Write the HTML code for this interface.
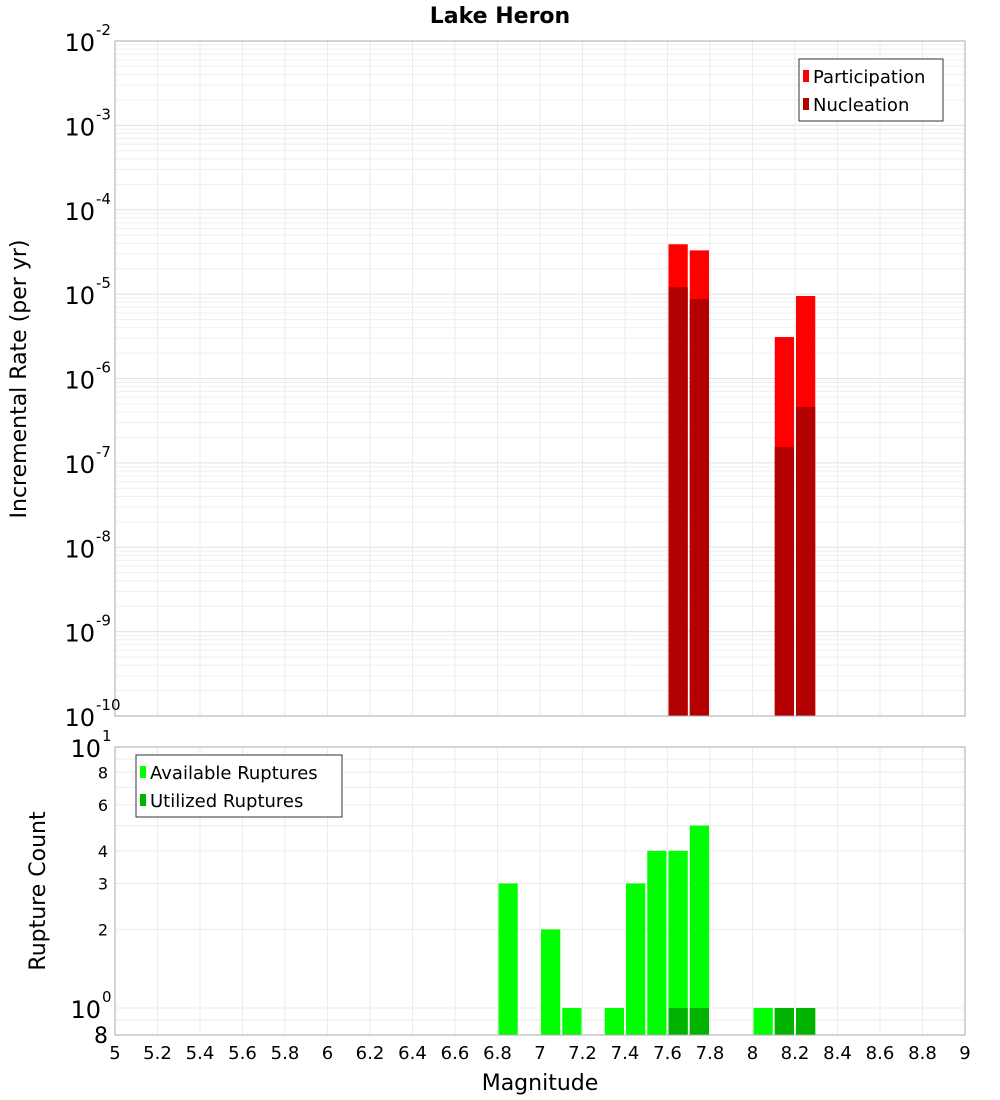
<!DOCTYPE html>
<html><head><meta charset="utf-8"><style>
body{margin:0;background:#fff;}
svg{display:block;font-family:"DejaVu Sans","Liberation Sans",sans-serif;}
</style></head><body>
<svg id="c" width="1000" height="1100"></svg>
<script>
const magBins=[7.65,7.75,8.15,8.25];
const participation=[3.9e-5,3.3e-5,3.1e-6,9.5e-6];
const nucleation=[1.21e-5,8.75e-6,1.54e-7,4.6e-7];
const countBins=[6.85,7.05,7.15,7.35,7.45,7.55,7.65,7.75,8.05,8.15,8.25];
const available=[3,2,1,1,3,4,4,5,1,1,1];
const utilBins=[7.65,7.75,8.15,8.25];
const utilized=[1,1,1,1];
const xTicks=[5,5.2,5.4,5.6,5.8,6,6.2,6.4,6.6,6.8,7,7.2,7.4,7.6,7.8,8,8.2,8.4,8.6,8.8,9];
const topExps=[-2,-3,-4,-5,-6,-7,-8,-9,-10];
const botTicks=[2,3,4,6,8];

const NS='http://www.w3.org/2000/svg';
const svg=document.getElementById('c');
function el(t,a,p){const e=document.createElementNS(NS,t);for(const k in a)e.setAttribute(k,a[k]);(p||svg).appendChild(e);return e;}
const L=115,R=965,T1=41,B1=716,T2=747,B2=1035;
const X=m=>L+(m-5)/4*(R-L);
const Y1=v=>T1+(-2-Math.log10(v))*(B1-T1)/8;
const Y2=v=>1008-Math.log10(v)*261;
const bw=(R-L)/40;

// title
let t=el('text',{x:500,y:23,'text-anchor':'middle','font-size':22,'font-weight':'bold'});t.textContent='Lake Heron';


// grids top
const g1=el('g',{});
for(let e=-10;e<-2;e++)for(let k=1;k<10;k++){const y=Y1(k*Math.pow(10,e));el('line',{x1:L,x2:R,y1:y,y2:y,stroke:k==1?'#e0e0e0':'#efefef','stroke-width':1},g1);}
xTicks.forEach(m=>el('line',{x1:X(m),x2:X(m),y1:T1,y2:B1,stroke:'#ebebeb'},g1));
// grids bottom
const g2=el('g',{});
[0.9,1,2,3,4,5,6,7,8,9].forEach(v=>{const y=Y2(v);el('line',{x1:L,x2:R,y1:y,y2:y,stroke:'#ebebeb'},g2);});
xTicks.forEach(m=>el('line',{x1:X(m),x2:X(m),y1:T2,y2:B2,stroke:'#ebebeb'},g2));

// top bars
magBins.forEach((m,i)=>{
 let r=el('rect',{x:X(m)-bw/2+1,y:Y1(participation[i]),width:bw-2,height:B1-Y1(participation[i]),fill:'#ff0000'});
 
 r=el('rect',{x:X(m)-bw/2+1,y:Y1(nucleation[i]),width:bw-2,height:B1-Y1(nucleation[i]),fill:'#b30000'});
 
});
countBins.forEach((m,i)=>{
 const y=Y2(available[i]);
 const r=el('rect',{x:X(m)-bw/2+1,y:y,width:bw-2,height:B2-y,fill:'#00ff00'});
 
});
utilBins.forEach((m,i)=>{
 const y=Y2(utilized[i]);
 const r=el('rect',{x:X(m)-bw/2+1,y:y,width:bw-2,height:B2-y,fill:'#00b300'});
 
});

// frames
el('rect',{x:L,y:T1,width:R-L,height:B1-T1,fill:'none',stroke:'#aaa'});
el('rect',{x:L,y:T2,width:R-L,height:B2-T2,fill:'none',stroke:'#aaa'});

// top y labels
topExps.forEach(e=>{
 const y=Y1(Math.pow(10,e));
 const tx=el('text',{x:95,y:y+10,'text-anchor':'end','font-size':24});tx.textContent='10';
 
 const s=el('text',{x:96,y:y-6,'font-size':15});s.textContent=String(e);
 
});
// bottom y labels
[[10,'1'],[1,'0']].forEach(([v,e])=>{
 const y=Y2(v);
 const tx=el('text',{x:101,y:y+10,'text-anchor':'end','font-size':24});tx.textContent='10';
 
 const s=el('text',{x:102,y:y-6,'font-size':15});s.textContent=e;
});
botTicks.forEach(v=>{const tx=el('text',{x:108,y:Y2(v)+6,'text-anchor':'end','font-size':16});tx.textContent=String(v);
 });
let e8=el('text',{x:108,y:1043,'text-anchor':'end','font-size':22});e8.textContent='8';
// x labels
xTicks.forEach(m=>{const tx=el('text',{x:X(m),y:1059,'text-anchor':'middle','font-size':18});tx.textContent=String(m);
 });
t=el('text',{x:540,y:1090,'text-anchor':'middle','font-size':22});t.textContent='Magnitude';

t=el('text',{x:0,y:0,'text-anchor':'middle','font-size':22,transform:'translate(26,379) rotate(-90)'});t.textContent='Incremental Rate (per yr)';

t=el('text',{x:0,y:0,'text-anchor':'middle','font-size':22,transform:'translate(45,891) rotate(-90)'});t.textContent='Rupture Count';


// legends
function legend(x,y,w,items,name){
 const g=el('g',{});
 el('rect',{x:x,y:y,width:w,height:62,fill:'#fff',stroke:'#333'},g);
 items.forEach((it,i)=>{
  el('rect',{x:x+4,y:y+11+i*28,width:6,height:12,fill:it[1]},g);
  const tx=el('text',{x:x+14,y:y+24+i*28,'font-size':18},g);tx.textContent=it[0];
 });
}
legend(799,59,144,[['Participation','#ff0000'],['Nucleation','#b30000']],'top-legend');
legend(136,755,206,[['Available Ruptures','#00ff00'],['Utilized Ruptures','#00b300']],'bottom-legend');
</script>
</body></html>
